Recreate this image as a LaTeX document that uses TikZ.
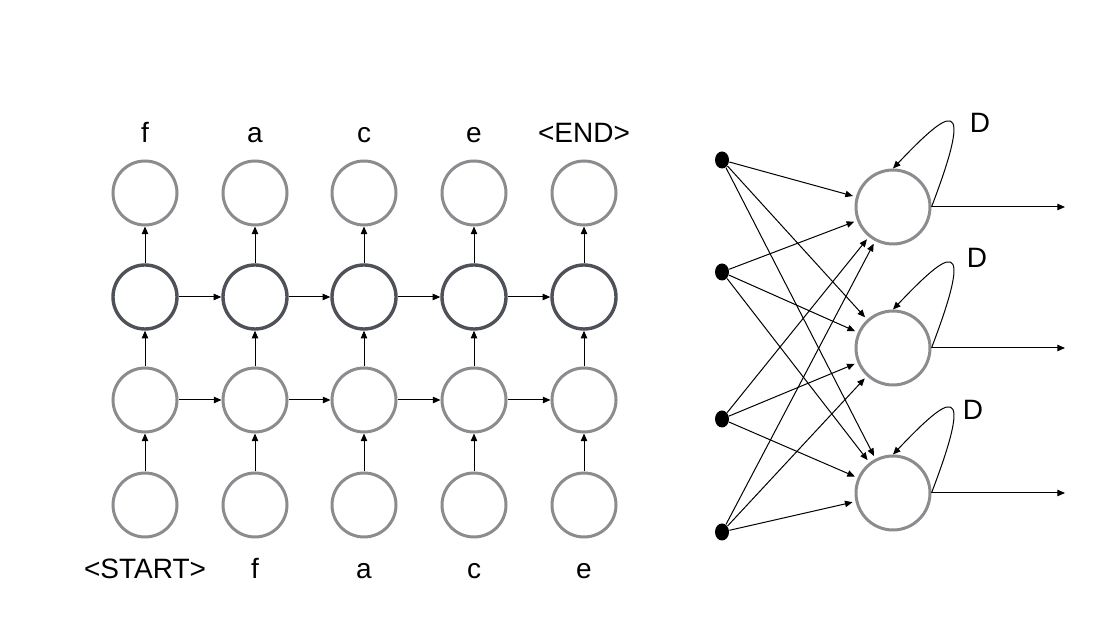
\documentclass[tikz,border=0pt]{standalone}
\usepackage{fontspec}
\setmainfont{Liberation Sans}
\usepackage{tikz}
\usetikzlibrary{arrows.meta,shapes.geometric}

\definecolor{lightgrey}{RGB}{140,140,144}
\definecolor{darkgrey}{RGB}{78,82,88}

\begin{document}
\begin{tikzpicture}[
    x=0.5pt, y=-0.5pt,
    >={Triangle[length=3.8pt,width=3.2pt]},
    line width=0.5pt,
    unit/.style={circle, draw=lightgrey, line width=1.5pt, minimum size=32pt, inner sep=0pt},
    hidden/.style={unit, draw=darkgrey, line width=1.7pt},
    big/.style={unit, minimum size=37pt},
    dot/.style={ellipse, fill=black, minimum width=7pt, minimum height=8.5pt, inner sep=0pt},
    word/.style={font=\fontsize{14}{16}\selectfont, anchor=base, inner sep=0pt}
]
\useasboundingbox (0,0) rectangle (1109,624);

%-------------------------
% Unrolled network
%-------------------------
\foreach \x/\t/\b [count=\i] in {145/f/<START>, 255/a/f, 364/c/a, 474/e/c, 584/<END>/e} {
    \node[unit] (in\i) at (\x,505) {};
    \node[unit] (h\i) at (\x,400) {};
    \node[hidden] (g\i) at (\x,297) {};
    \node[unit] (out\i) at (\x,193) {};
    \node[word] (top\i) at (\x,143) {\t};
    \node[word] (bot\i) at (\x,579) {\b};
    \draw[->] (in\i) -- (h\i);
    \draw[->] (h\i) -- (g\i);
    \draw[->] (g\i) -- (out\i);
}

% Recurrent links
\foreach \i [evaluate=\i as \j using int(\i+1)] in {1,...,4} {
    \draw[->] (h\i) -- (h\j);
    \draw[->] (g\i) -- (g\j);
}

%-------------------------
% Recurrent layer
%-------------------------
\foreach \y [count=\i] in {160,272,419,532}
    \node[dot] (d\i) at (722,\y) {};

\foreach \y/\dx/\dy [count=\j] in {207/980/133, 348/977/268, 493/973/420} {
    \node[big] (c\j) at (893,\y) {};
    \coordinate (o\j) at (1065,\y);
    \draw[->] (c\j.east) -- (o\j);
    \node[word] (delay\j) at (\dx,\dy) {D};
    \draw[->] (c\j.east) .. controls +(45,-118) and +(55,-58) .. (c\j.north);
}

% Input connections
\foreach \i in {1,...,4}
    \foreach \j in {1,2,3}
        \draw[->, shorten >=1.5pt] (d\i) -- (c\j);
\end{tikzpicture}
\end{document}
